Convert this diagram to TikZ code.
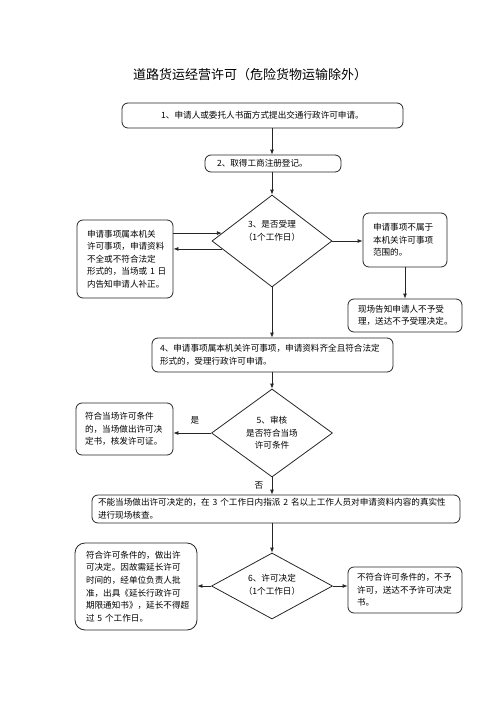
\documentclass[tikz,border=0pt]{standalone}
\usepackage{fontspec}
\newfontfamily\cjk{Noto Sans CJK SC}
\usetikzlibrary{shapes.geometric,arrows.meta,calc}
\begin{document}
\begin{tikzpicture}[x=1pt,y=-1pt,
  every node/.style={font=\cjk\fontsize{8.6}{12.6}\selectfont},
  box/.style={draw=black!85, line width=0.8pt, rounded corners=6pt, inner ysep=0pt, align=left},
  dia/.style={draw=black!85, line width=0.8pt, diamond, inner sep=0pt},
  arr/.style={draw=black!85, line width=0.8pt, -{Latex[length=5pt,width=4pt]}},
  plain/.style={inner sep=0pt}]
\useasboundingbox (0,0) rectangle (500,707);

\node[plain, font=\cjk\fontsize{13}{15}\selectfont] (title) at (250,75) {道路货运经营许可（危险货物运输除外）};

\node[box, align=center, minimum width=281pt, minimum height=25pt] (b1) at (262.5,115.5)
  {1、申请人或委托人书面方式提出交通行政许可申请。};
\node[box, inner xsep=12pt, text width=112pt, minimum height=17pt] (b2) at (273,163.5)
  {2、取得工商注册登记。};

\node[dia, minimum width=120pt, minimum height=92pt] (d3) at (272,241) {};
\node[plain, align=center] (d3t) at (272,231) {3、是否受理\\（1个工作日）};

\node[box, inner xsep=10pt, text width=76pt, minimum height=78pt] (bl3) at (125,259)
  {申请事项属本机关\\许可事项，申请资料\\不全或不符合法定\\\mbox{形式的，当场或 1 日}\\内告知申请人补正。};
\node[box, inner xsep=10pt, text width=64pt, minimum height=54pt] (br3) at (405,240)
  {申请事项不属于\\本机关许可事项\\范围的。};
\node[box, inner xsep=10pt, text width=94pt, minimum height=33pt] (br3b) at (405,315.5)
  {现场告知申请人不予受\\理，送达不予受理决定。};

\node[box, inner xsep=8pt, text width=225pt, minimum height=34pt] (b4) at (272.5,355)
  {\mbox{4、申请事项属本机关许可事项，申请资料齐全且符合法定}\\形式的，受理行政许可申请。};

\node[dia, minimum width=121pt, minimum height=88pt] (d5) at (272,433) {};
\node[plain, align=center] (d5t) at (272,433) {5、审核\\是否符合当场\\许可条件};
\node[box, inner xsep=9pt, text width=79pt, minimum height=52pt] (bl5) at (124.5,429)
  {符合当场许可条件\\的，当场做出许可决\\定书，核发许可证。};
\node[plain] (yes) at (195,420) {是};
\node[plain] (no) at (259,485) {否};

\node[box, inner xsep=6pt, text width=356pt, minimum height=28pt] (b6) at (276,509)
  {\mbox{不能当场做出许可决定的，在 3 个工作日内指派 2 名以上工作人员对申请资料内容的真实性}\\进行现场核查。};

\node[dia, minimum width=121pt, minimum height=66pt] (d6) at (272,586) {};
\node[plain, align=center] (d6t) at (272,585) {6、许可决定\\（1个工作日）};
\node[box, rounded corners=10pt, inner xsep=11pt, text width=100pt, minimum height=87pt] (bl6) at (136,586.5)
  {符合许可条件的，做出许\\可决定。因故需延长许可\\时间的，经单位负责人批\\准，出具《延长行政许可\\期限通知书》，延长不得超\\\mbox{过 5 个工作日。}};
\node[box, inner xsep=9pt, text width=96pt, minimum height=46pt] (br6) at (405,590)
  {不符合许可条件的，不予\\许可，送达不予许可决定\\书。};

\draw[arr] (b1.south -| d3.north) -- (b2.north -| d3.north);
\draw[arr] (b2.south -| d3.north) -- (d3.north);
\draw[arr] (bl3.east |- d3.171) -- (d3.171);
\draw[arr] (d3.189) -- (bl3.east |- d3.189);
\draw[arr] (d3.east) -- (d3.east -| br3.west);
\draw[arr] (br3.south) -- (br3.south |- br3b.north);
\draw[arr] (d3.south) -- (b4.north -| d3.south);
\draw[arr] (b4.south -| d5.north) -- (d5.north);
\draw[arr] (d5.west) -- (d5.west -| bl5.east);
\draw[arr] (d5.south) -- (b6.north -| d5.south);
\draw[arr] (b6.south -| d6.north) -- (d6.north);
\draw[arr] (d6.west) -- (d6.west -| bl6.east);
\draw[arr] (d6.east) -- (d6.east -| br6.west);
\end{tikzpicture}
\end{document}
